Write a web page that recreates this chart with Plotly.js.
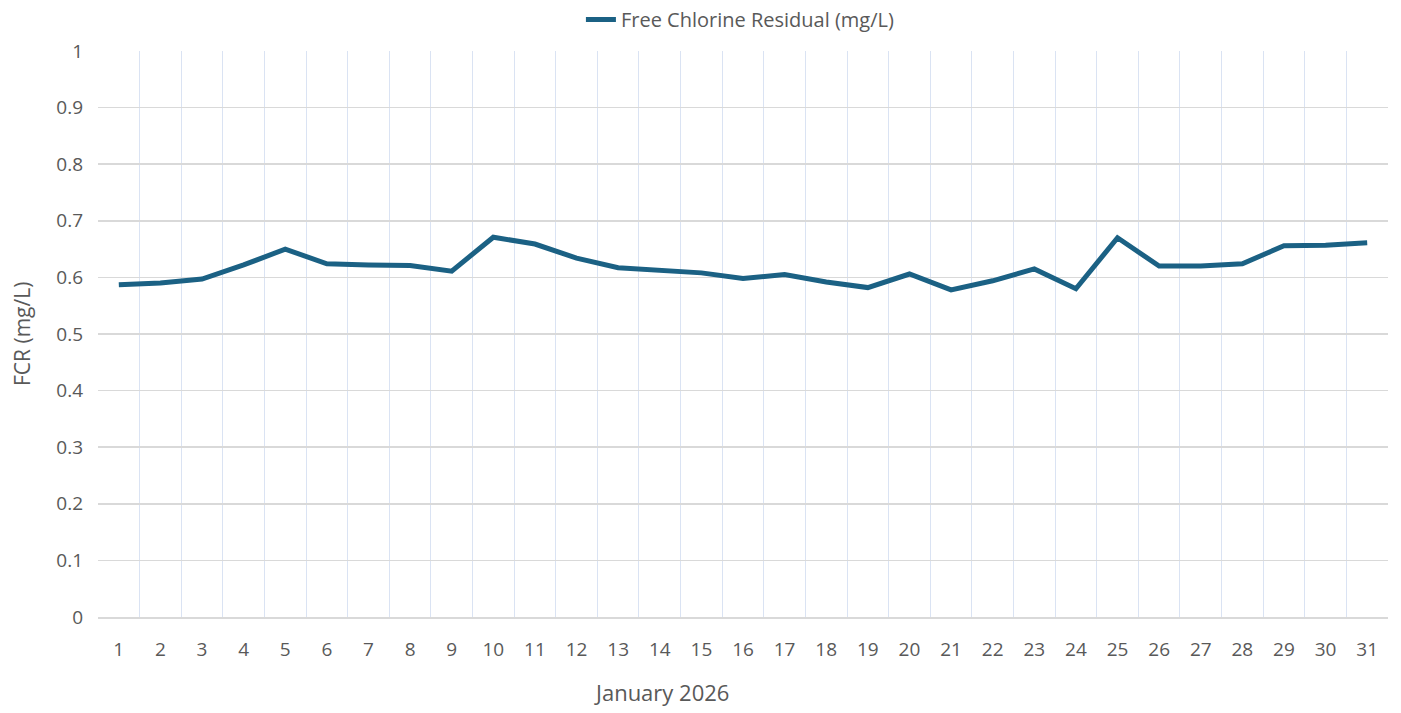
<!DOCTYPE html>
<html>
<head>
<meta charset="utf-8">
<script src="https://cdn.plot.ly/plotly-3.0.1.min.js"></script>
<style>html,body{margin:0;padding:0;background:#fff;}#chart{width:1401px;height:713px;}</style>
</head>
<body>
<div id="chart"></div>
<script>
const days = ["1","2","3","4","5","6","7","8","9","10","11","12","13","14","15","16","17","18","19","20","21","22","23","24","25","26","27","28","29","30","31"];
const fcr = [0.587,0.590,0.597,0.622,0.650,0.624,0.622,0.621,0.611,0.671,0.659,0.634,0.617,0.612,0.608,0.598,0.605,0.592,0.582,0.606,0.578,0.594,0.615,0.580,0.670,0.620,0.620,0.624,0.656,0.657,0.661];
const seriesName = "Free Chlorine Residual (mg/L)";
const xTitle = "January 2026";
const yTitle = "FCR (mg/L)";

const fontFam = "'Open Sans', Lato, sans-serif";
const trace = {
  x: days, y: fcr, type: "scatter", mode: "lines", name: seriesName,
  line: {color: "#1b6184", width: 5, shape: "linear"}
};
const layout = {
  width: 1401, height: 713,
  margin: {l: 98, r: 13, t: 51, b: 96, autoexpand: false},
  paper_bgcolor: "#ffffff", plot_bgcolor: "#ffffff",
  font: {family: fontFam, color: "#595959", size: 17},
  showlegend: true,
  legend: {orientation: "h", x: 0.498, xanchor: "center", yref: "container", y: 1.0, yanchor: "top",
           font: {family: fontFam, size: 20, color: "#595959"}},
  xaxis: {
    type: "category", range: [-0.5, 30.5], tickson: "boundaries", showgrid: true, gridcolor: "#dae3f3", gridwidth: 1,
    ticks: "", showline: true, linecolor: "#d9d9d9", linewidth: 2, zeroline: false,
    tickfont: {family: fontFam, size: 19, color: "#595959"}, ticklabelstandoff: 14,
    mirror: false
  },
  yaxis: {
    range: [0, 1], dtick: 0.1, tick0: 0, showgrid: true, gridcolor: "#d9d9d9", gridwidth: 1.5,
    zeroline: false, showline: false, ticks: "",
    tickfont: {family: fontFam, size: 19, color: "#595959"}, ticklabelstandoff: 14
  },
  annotations: [
    {text: xTitle, xref: "paper", yref: "paper", x: (661 - 98) / 1290, y: -0.132, xanchor: "center", yanchor: "middle",
     showarrow: false, font: {family: fontFam, size: 22, color: "#595959"}},
    {text: yTitle, xref: "paper", yref: "paper", x: (22 - 98) / 1290, y: 0.5, xanchor: "center", yanchor: "middle",
     textangle: -90, showarrow: false, font: {family: fontFam, size: 21, color: "#595959"}}
  ]
};
Plotly.newPlot("chart", [trace], layout, {displayModeBar: false, staticPlot: true});
</script>
</body>
</html>
